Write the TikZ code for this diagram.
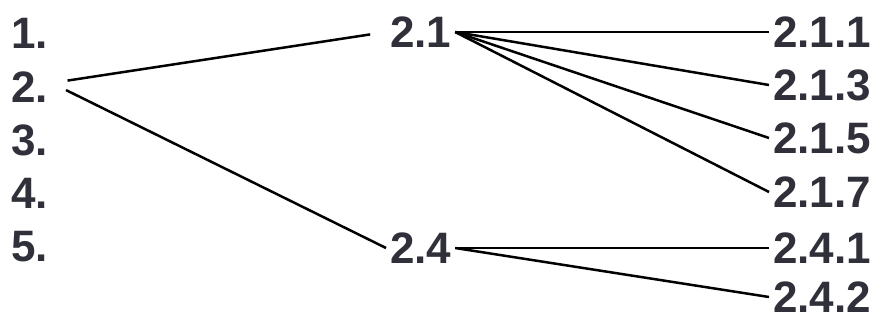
\documentclass[tikz,border=0pt]{standalone}
\usepackage{fontspec}
\setmainfont{Liberation Sans}
\usepackage{xcolor}
\usepackage{tikz}
\definecolor{inkgray}{RGB}{48,48,58}

\begin{document}
\begin{tikzpicture}[
  x=0.5pt, y=-0.5pt,
  lbl/.style={anchor=west, inner sep=2pt, outer sep=0pt, text=inkgray, font=\fontsize{22}{26}\selectfont\bfseries},
  branch/.style={line width=1.25pt, black},
  trunk/.style={branch, shorten <=8pt}
]
\useasboundingbox (0,0) rectangle (886,320);
\node[lbl] (n1) at (7,33) {1.};
\node[lbl] (n2) at (7,87) {2.};
\node[lbl] (n3) at (7,140) {3.};
\node[lbl] (n4) at (7,193) {4.};
\node[lbl] (n5) at (7,247) {5.};
\node[lbl] (n21) at (386,32) {2.1};
\node[lbl] (n24) at (386,248) {2.4};
\node[lbl] (n211) at (769,32) {2.1.1};
\node[lbl] (n213) at (769,85) {2.1.3};
\node[lbl] (n215) at (769,138) {2.1.5};
\node[lbl] (n217) at (769,192) {2.1.7};
\node[lbl] (n241) at (769,248) {2.4.1};
\node[lbl] (n242) at (769,297) {2.4.2};

\draw[trunk, shorten >=8pt] ([yshift=2pt]n2.east) -- (n21.west);
\draw[trunk] ([yshift=2pt]n2.east) -- (n24.west);
\draw[branch] (n21.east) -- (n211.west);
\draw[branch] (n21.east) -- (n213.west);
\draw[branch] (n21.east) -- (n215.west);
\draw[branch] (n21.east) -- (n217.west);
\draw[branch] (n24.east) -- (n241.west);
\draw[branch] (n24.east) -- (n242.west);
\end{tikzpicture}
\end{document}
